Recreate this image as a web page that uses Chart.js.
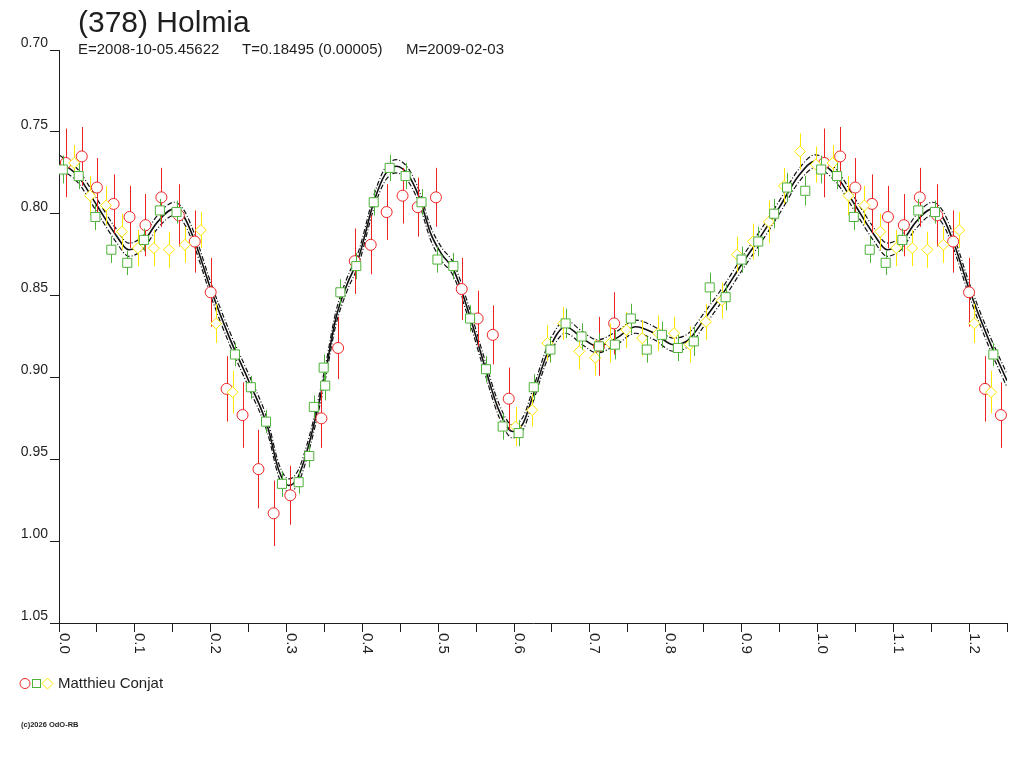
<!DOCTYPE html>
<html>
<head>
<meta charset="utf-8">
<script src="https://cdn.jsdelivr.net/npm/chart.js@4.4.1/dist/chart.umd.min.js"></script>
<style>
  html, body { margin: 0; padding: 0; background: #fff; }
  body { width: 1024px; height: 768px; position: relative; overflow: hidden; font-family: "Liberation Sans", Arial, sans-serif; color: #1e1e1e; }
  #wrap { position: absolute; left: 0; top: 0; width: 1024px; height: 768px; }
  .t { position: absolute; white-space: pre; }
  #title { left: 78px; top: 7px; font-size: 30px; line-height: 30px; }
  .sub { top: 41px; font-size: 15px; line-height: 15px; }
  #legendText { left: 58px; top: 675px; font-size: 15px; line-height: 15px; }
  #copy { left: 21px; top: 721px; font-size: 7.5px; line-height: 7.5px; font-weight: bold; }
</style>
</head>
<body>
<div id="wrap"><canvas id="c" width="1024" height="768"></canvas></div>
<div class="t" id="title">(378) Holmia</div>
<div class="t sub" style="left:78px">E=2008-10-05.45622</div>
<div class="t sub" style="left:242px">T=0.18495 (0.00005)</div>
<div class="t sub" style="left:406px">M=2009-02-03</div>
<div class="t" id="legendText">Matthieu Conjat</div>
<div class="t" id="copy">(c)2026 OdO-RB</div>
<script>
// ---------- data ----------
const xTickValues = [0.0,0.1,0.2,0.3,0.4,0.5,0.6,0.7,0.8,0.9,1.0,1.1,1.2];
const xTickLabels = ['0.0','0.1','0.2','0.3','0.4','0.5','0.6','0.7','0.8','0.9','1.0','1.1','1.2'];

const redPhase = [0.009,0.030,0.050,0.072,0.093,0.114,0.135,0.158,0.179,0.200,0.221,0.242,0.263,0.283,0.305,0.346,0.368,0.390,0.411,0.432,0.453,0.473,0.497,0.531,0.552,0.572,0.593,0.712,0.732,
  1.009,1.030,1.050,1.072,1.093,1.114,1.135,1.158,1.179,1.200,1.221,1.242];
const redMag = [0.769,0.765,0.784,0.794,0.802,0.807,0.790,0.801,0.817,0.848,0.907,0.923,0.956,0.983,0.972,0.925,0.882,0.829,0.819,0.799,0.789,0.796,0.790,0.846,0.864,0.874,0.913,0.881,0.867,
  0.769,0.765,0.784,0.794,0.802,0.807,0.790,0.801,0.817,0.848,0.907,0.923];
const redErr = [0.021,0.018,0.018,0.018,0.019,0.019,0.018,0.019,0.019,0.021,0.020,0.020,0.024,0.020,0.018,0.018,0.019,0.020,0.018,0.017,0.017,0.018,0.018,0.019,0.017,0.018,0.019,0.018,0.019,
  0.021,0.018,0.018,0.018,0.019,0.019,0.018,0.019,0.019,0.021,0.020,0.020];

const greenPhase = [0.005,0.026,0.048,0.069,0.090,0.112,0.133,0.155,
  0.232,0.253,0.273,0.294,0.316,0.330,0.336,0.351,0.349,
  0.371,0.392,0.415,0.436,0.457,0.478,0.499,0.520,0.542,0.563,0.585,0.606,0.626,
  0.648,0.668,0.689,0.712,0.733,0.754,0.775,0.795,0.816,0.837,0.858,0.879,0.900,0.922,0.943,0.960,0.984,
  1.005,1.026,1.048,1.069,1.090,1.112,1.133,1.155,1.232];
const greenMag = [0.773,0.777,0.802,0.822,0.830,0.816,0.798,0.799,
  0.886,0.906,0.927,0.965,0.964,0.948,0.918,0.905,0.894,
  0.848,0.832,0.793,0.772,0.777,0.793,0.828,0.832,0.864,0.895,0.930,0.934,0.906,
  0.883,0.867,0.875,0.881,0.880,0.864,0.883,0.874,0.882,0.878,0.845,0.851,0.828,0.817,0.800,0.784,0.786,
  0.773,0.777,0.802,0.822,0.830,0.816,0.798,0.799,0.886];
const greenErr = [0.0085,0.008,0.008,0.008,0.0075,0.007,0.007,0.007,
  0.007,0.007,0.007,0.008,0.007,0.007,0.007,0.009,0.008,
  0.008,0.008,0.008,0.008,0.008,0.008,0.008,0.008,0.008,0.008,0.008,0.008,0.008,
  0.008,0.009,0.008,0.008,0.009,0.009,0.008,0.008,0.008,0.009,0.009,0.008,0.008,0.009,0.009,0.009,0.009,
  0.0085,0.008,0.008,0.008,0.0075,0.007,0.007,0.007,0.007];

const yellowPhase = [0.020,0.041,0.062,0.083,0.104,0.125,0.145,0.166,0.187,0.207,0.229,
  0.602,0.624,0.644,0.665,0.686,0.707,0.727,0.748,0.769,0.790,0.811,0.832,0.853,0.874,0.894,0.915,0.936,0.956,0.977,0.998,
  1.020,1.041,1.062,1.083,1.104,1.125,1.145,1.166,1.187,1.207,1.229];
const yellowMag = [0.769,0.789,0.795,0.811,0.821,0.821,0.822,0.819,0.810,0.867,0.909,
  0.930,0.920,0.879,0.867,0.884,0.888,0.879,0.871,0.876,0.873,0.873,0.880,0.866,0.853,0.825,0.817,0.805,0.783,0.762,0.770,
  0.769,0.789,0.795,0.811,0.821,0.821,0.822,0.819,0.810,0.867,0.909];
const yellowErr = [0.011,0.012,0.012,0.011,0.011,0.011,0.011,0.011,0.011,0.012,0.013,
  0.012,0.010,0.011,0.010,0.011,0.011,0.012,0.011,0.011,0.011,0.010,0.011,0.011,0.011,0.011,0.011,0.013,0.011,0.011,0.011,
  0.011,0.012,0.012,0.011,0.011,0.011,0.011,0.011,0.011,0.012,0.013];

const fitPhase = [0,0.025,0.05,0.075,0.092,0.11,0.13,0.152,0.165,0.18,
  0.2,0.225,0.25,0.275,0.29,0.303,0.315,0.33,0.35,0.365,
  0.38,0.395,0.415,0.43,0.445,0.46,0.475,0.49,0.505,0.52,
  0.54,0.56,0.58,0.598,0.612,0.625,0.645,0.668,0.69,0.71,
  0.735,0.76,0.785,0.81,0.83,0.85,0.875,0.9,0.925,0.95,
  0.975,0.997,
  1.025,1.05,1.075,1.092,1.11,1.13,1.152,1.165,1.18,1.2,1.225,1.25];
const fitMag = [0.768,0.777,0.795,0.813,0.822,0.818,0.805,0.797,0.802,0.818,
  0.846,0.876,0.902,0.930,0.957,0.966,0.961,0.940,0.900,0.864,
  0.843,0.827,0.793,0.776,0.771,0.776,0.790,0.812,0.825,0.834,
  0.860,0.891,0.920,0.933,0.928,0.911,0.884,0.869,0.876,0.881,
  0.876,0.869,0.873,0.880,0.877,0.865,0.849,0.831,0.814,0.796,
  0.777,0.768,
  0.777,0.795,0.813,0.822,0.818,0.805,0.797,0.802,0.818,0.846,0.876,0.902];
const fitUpper = [0.764,0.773,0.791,0.809,0.818,0.814,0.801,0.793,0.798,0.814,
  0.842,0.872,0.898,0.926,0.953,0.962,0.957,0.936,0.896,0.860,
  0.839,0.823,0.789,0.772,0.767,0.772,0.786,0.808,0.821,0.830,
  0.856,0.887,0.916,0.929,0.924,0.907,0.880,0.865,0.872,0.877,
  0.872,0.865,0.869,0.876,0.873,0.861,0.845,0.827,0.810,0.792,
  0.773,0.764,
  0.773,0.791,0.809,0.818,0.814,0.801,0.793,0.798,0.814,0.842,0.872,0.898];
const fitLower = [0.772,0.781,0.799,0.817,0.826,0.822,0.809,0.801,0.806,0.822,
  0.850,0.880,0.906,0.934,0.961,0.970,0.965,0.944,0.904,0.868,
  0.847,0.831,0.797,0.780,0.775,0.780,0.794,0.816,0.829,0.838,
  0.864,0.895,0.924,0.937,0.932,0.915,0.888,0.873,0.880,0.885,
  0.880,0.873,0.877,0.884,0.881,0.869,0.853,0.835,0.818,0.800,
  0.781,0.772,
  0.781,0.799,0.817,0.826,0.822,0.809,0.801,0.806,0.822,0.850,0.880,0.906];

// ---------- build ----------
const RED = '#ee2222', GREEN = '#4fb23a', YELLOW = '#ffe800', AXIS = '#1e1e1e';
const FONT = '"Liberation Sans", Arial, sans-serif';
const pts = (xs, ys) => xs.map((x, i) => ({ x: x, y: ys[i] }));

function pointSet(label, xs, ys, errs, color, style, radius, order) {
  return {
    label, data: pts(xs, ys), errors: errs, showLine: false,
    pointStyle: style, pointRadius: radius, pointHoverRadius: radius,
    pointBorderColor: color, pointBackgroundColor: '#ffffff', pointBorderWidth: 1,
    borderColor: color, backgroundColor: '#ffffff', order
  };
}
function curveSet(label, ys, width, dash) {
  return {
    label, data: pts(fitPhase, ys), showLine: true, pointRadius: 0, pointHoverRadius: 0,
    borderColor: '#111111', borderWidth: width, borderDash: dash, fill: false,
    cubicInterpolationMode: 'monotone', order: 10
  };
}

const errorBars = {
  id: 'errorBars',
  beforeDatasetDraw(chart, args) {
    const ds = chart.data.datasets[args.index];
    if (!ds.errors) return;
    const xs = chart.scales.x, ys = chart.scales.y, ctx = chart.ctx, a = chart.chartArea;
    ctx.save();
    ctx.beginPath(); ctx.rect(a.left, a.top, a.right - a.left, a.bottom - a.top); ctx.clip();
    ctx.strokeStyle = ds.borderColor; ctx.lineWidth = 1;
    ds.data.forEach((p, i) => {
      const px = Math.round(xs.getPixelForValue(p.x)) + 0.5;
      ctx.beginPath();
      ctx.moveTo(px, ys.getPixelForValue(p.y - ds.errors[i]));
      ctx.lineTo(px, ys.getPixelForValue(p.y + ds.errors[i]));
      ctx.stroke();
    });
    ctx.restore();
  }
};

const extras = {
  id: 'extras',
  afterDraw(chart) {
    const ctx = chart.ctx, xs = chart.scales.x;
    ctx.save();
    // rotated x tick labels (reading top to bottom)
    ctx.fillStyle = AXIS; ctx.font = '15px ' + FONT;
    ctx.textAlign = 'left'; ctx.textBaseline = 'alphabetic';
    xTickValues.forEach((v, i) => {
      const px = xs.getPixelForValue(v);
      ctx.save(); ctx.translate(px + 0.5, chart.chartArea.bottom + 10); ctx.rotate(Math.PI / 2);
      ctx.fillText(xTickLabels[i], 0, 0);
      ctx.restore();
    });
    // legend symbols
    ctx.lineWidth = 1;
    ctx.strokeStyle = RED; ctx.beginPath(); ctx.arc(25, 683.5, 5, 0, Math.PI * 2); ctx.stroke();
    ctx.strokeStyle = GREEN; ctx.strokeRect(32.5, 679.5, 8, 8);
    ctx.strokeStyle = YELLOW; ctx.beginPath();
    ctx.moveTo(47.5, 678); ctx.lineTo(53, 683.5); ctx.lineTo(47.5, 689); ctx.lineTo(42, 683.5); ctx.closePath(); ctx.stroke();
    ctx.restore();
  }
};

new Chart(document.getElementById('c'), {
  type: 'scatter',
  data: {
    datasets: [
      pointSet('Matthieu Conjat (1)', greenPhase, greenMag, greenErr, GREEN, 'rect', 6.4, 1),
      pointSet('Matthieu Conjat (2)', yellowPhase, yellowMag, yellowErr, YELLOW, 'rectRot', 5.5, 2),
      pointSet('Matthieu Conjat (3)', redPhase, redMag, redErr, RED, 'circle', 5.5, 3),
      curveSet('fit', fitMag, 1.6, []),
      curveSet('fit upper', fitUpper, 1.2, [5, 2, 1, 2]),
      curveSet('fit lower', fitLower, 1.2, [5, 2, 1, 2])
    ]
  },
  options: {
    responsive: false, animation: false, devicePixelRatio: 1,
    layout: { padding: { left: 0, top: 50, right: 17, bottom: 0 } },
    plugins: { legend: { display: false }, tooltip: { enabled: false }, title: { display: false } },
    scales: {
      x: {
        type: 'linear', min: 0, max: 1.25,
        ticks: { stepSize: 0.05, display: false },
        grid: { display: true, drawOnChartArea: false, drawTicks: true, tickLength: 9, color: AXIS, lineWidth: 1 },
        border: { display: true, color: AXIS, width: 1 },
        afterFit(s) { s.height = 145; }
      },
      y: {
        type: 'linear', reverse: true, min: 0.70, max: 1.05,
        ticks: { stepSize: 0.05, color: AXIS, font: { family: FONT, size: 14 }, padding: 2, labelOffset: -7,
                 callback: v => Number(v).toFixed(2) },
        grid: { display: true, drawOnChartArea: false, drawTicks: true, tickLength: 9, color: AXIS, lineWidth: 1 },
        border: { display: true, color: AXIS, width: 1 },
        afterFit(s) { s.width = 59; }
      }
    }
  },
  plugins: [errorBars, extras]
});
</script>
</body>
</html>
